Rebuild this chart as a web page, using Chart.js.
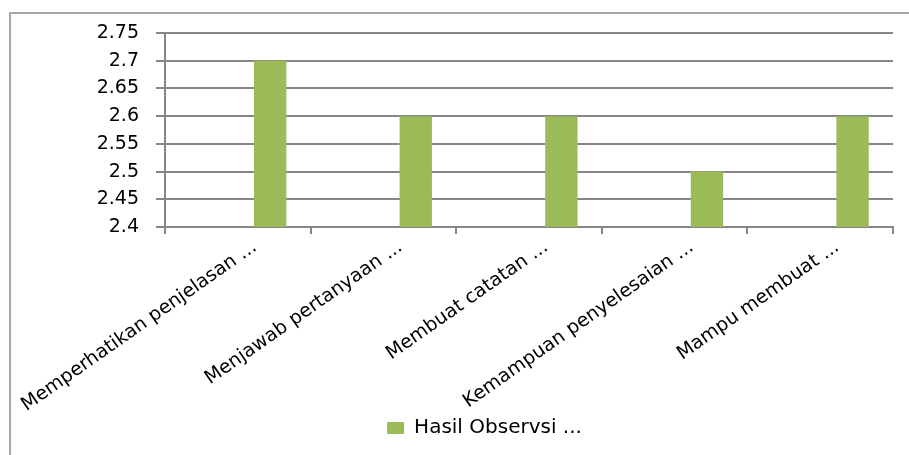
<!DOCTYPE html>
<html>
<head>
<meta charset="utf-8">
<script src="https://cdn.jsdelivr.net/npm/chart.js@4/dist/chart.umd.min.js"></script>
<style>
    body { margin: 0; background: #fff; }
    #wrap { position: relative; width: 909px; height: 455px; overflow: hidden; }
    #frame { position: absolute; left: 9px; top: 12px; width: 1000px; height: 1000px; border: 2px solid #a6a6a6; }
    canvas { position: absolute; left: 0; top: 0; }
</style>
</head>
<body>
<div id="wrap">
    <div id="frame"></div>
    <canvas id="chart" width="909" height="455"></canvas>
</div>
<script>
// data
const kategori = [
    'Memperhatikan penjelasan ...',
    'Menjawab pertanyaan ...',
    'Membuat catatan ...',
    'Kemampuan penyelesaian ...',
    'Mampu membuat ...'
];
const hasilObservasi = [2.7, 2.6, 2.6, 2.5, 2.6];
// two empty series in the original workbook push the bar to the right of each group
const seriKosong1 = [null, null, null, null, null];
const seriKosong2 = [null, null, null, null, null];
const namaSeri = 'Hasil Observsi ...';
const yMin = 2.4, yMax = 2.75, yStep = 0.05;

function grafikObservasi(id) {
    const data = {
        labels: kategori,
        datasets: [
            { label: '', data: seriKosong1, backgroundColor: '#9bbb59' },
            { label: '', data: seriKosong2, backgroundColor: '#9bbb59' },
            {
                label: namaSeri,
                data: hasilObservasi,
                backgroundColor: '#9bbb59',
                borderWidth: 0
            }
        ]
    };

    const config = {
        type: 'bar',
        data: data,
        options: {
            responsive: false,
            animation: false,
            // left padding only moves the legend; the y axis width below puts the plot at x=165
            layout: { padding: { top: 33, right: 16, left: 76, bottom: 7 } },
            datasets: { bar: { categoryPercentage: 3 / 4.5, barPercentage: 1 } },
            plugins: {
                tooltip: { enabled: false },
                legend: {
                    position: 'bottom',
                    labels: {
                        filter: item => item.text !== '',
                        boxWidth: 17,
                        boxHeight: 12,
                        padding: 0,
                        color: '#000',
                        font: { family: 'DejaVu Sans', size: 20 }
                    }
                }
            },
            scales: {
                x: {
                    afterFit: s => { s.height = 191; s.paddingLeft = 0; s.paddingRight = 0; },
                    border: { color: '#868686', width: 2 },
                    grid: { offset: true, drawOnChartArea: false, drawTicks: true, tickLength: 7, color: '#868686', lineWidth: 2 },
                    ticks: {
                        autoSkip: false,
                        maxRotation: 35,
                        minRotation: 35,
                        labelOffset: 17,
                        padding: 2,
                        color: '#000',
                        font: { family: 'DejaVu Sans', size: 19 }
                    }
                },
                y: {
                    min: yMin,
                    max: yMax,
                    afterFit: s => { s.width = 165 - 76; },
                    border: { color: '#868686', width: 2 },
                    grid: { color: '#868686', lineWidth: 2, tickLength: 9 },
                    ticks: {
                        stepSize: yStep,
                        padding: 17,
                        color: '#000',
                        font: { family: 'DejaVu Sans', size: 19 },
                        callback: v => String(Number(v.toFixed(2)))
                    }
                }
            }
        }
    };

    let ctx = document.getElementById(id).getContext("2d")

    new Chart(ctx, config)
}

grafikObservasi('chart')
</script>
</body>
</html>
